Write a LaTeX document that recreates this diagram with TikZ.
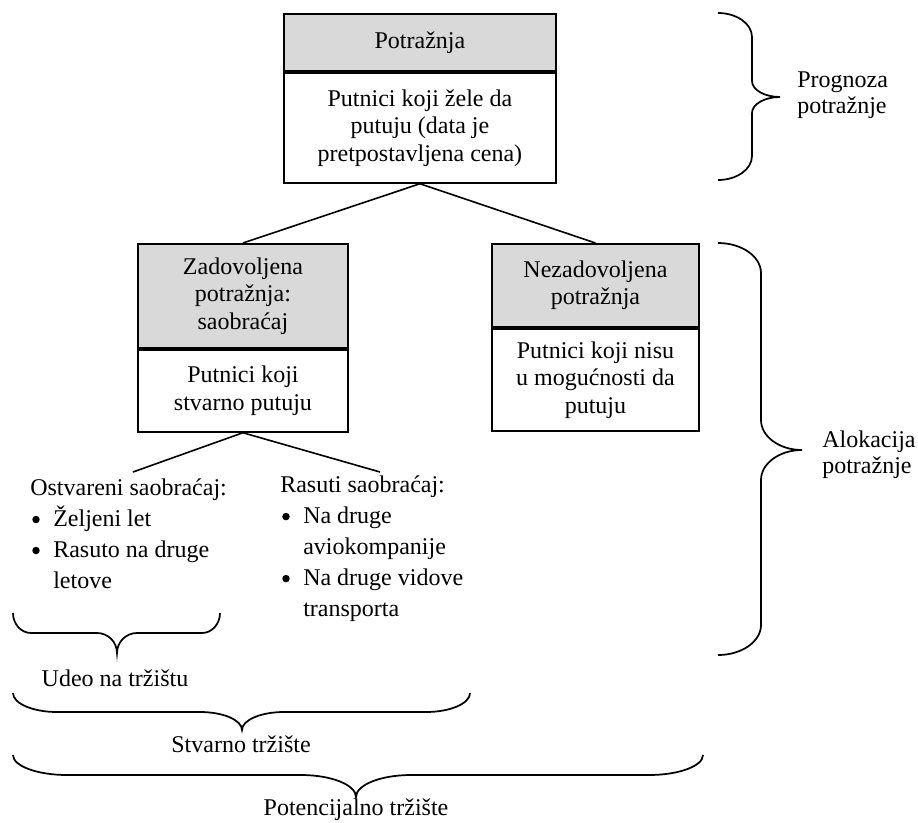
\documentclass[tikz,border=0pt]{standalone}
\usepackage{fontspec}
\setmainfont{Liberation Serif}
\definecolor{headgray}{RGB}{217,217,217}
\newcommand\diagfont{\fontsize{18pt}{20.6pt}\selectfont}
\newcommand\listfont{\fontsize{18pt}{23.25pt}\selectfont}
\newcommand\notefont{\fontsize{18pt}{19.2pt}\selectfont}
% bullet marker of a list item, followed by the indent of its text
\newcommand\itemmark{\makebox[17.25pt][l]{\hspace{1.5pt}\tikz[baseline=0pt]\fill (2.8pt,5.4pt) circle[radius=2.8pt];}}
\newcommand\itemgap{\hspace*{17.25pt}}
% horizontal curly brace, opening upwards:
% x-left, x-right, x-tip, y-ends, y-straight, y-tip, end-curve length, tip-curve length
\newcommand\hbracepx[8]{%
  \draw[bracepath] (#1,#4)
    .. controls (#1,{#4+0.552*(#5-#4)}) and ({#1+0.448*#7},#5) .. ({#1+#7},#5)
    -- ({#3-#8},#5)
    .. controls ({#3-0.448*#8},#5) and (#3,{#5+0.448*(#6-#5)}) .. (#3,#6)
    .. controls (#3,{#5+0.448*(#6-#5)}) and ({#3+0.448*#8},#5) .. ({#3+#8},#5)
    -- ({#2-#7},#5)
    .. controls ({#2-0.448*#7},#5) and (#2,{#4+0.552*(#5-#4)}) .. (#2,#4);}
% vertical curly brace, opening to the left:
% x-ends, x-straight, x-tip, y-top, y-bottom, y-tip, end-curve length, tip-curve length
\newcommand\vbracepx[8]{%
  \draw[bracepath] (#1,#4)
    .. controls ({#1+0.552*(#2-#1)},#4) and (#2,{#4+0.448*#7}) .. (#2,{#4+#7})
    -- (#2,{#6-#8})
    .. controls (#2,{#6-0.448*#8}) and ({#2+0.448*(#3-#2)},#6) .. (#3,#6)
    .. controls ({#2+0.448*(#3-#2)},#6) and (#2,{#6+0.448*#8}) .. (#2,{#6+#8})
    -- (#2,{#5-#7})
    .. controls (#2,{#5-0.448*#7}) and ({#1+0.552*(#2-#1)},#5) .. (#1,#5);}
\begin{document}
\begin{tikzpicture}[x=0.75pt,y=-0.75pt,
  hdr/.style={draw, line width=1.4pt, fill=headgray, inner sep=0pt, align=center, font=\diagfont},
  bodybox/.style={draw, line width=1.4pt, fill=white, inner sep=0pt, align=center, font=\diagfont},
  link/.style={line width=1.2pt},
  bracepath/.style={line width=1.3pt},
  listtext/.style={inner sep=0pt, align=left, font=\listfont},
  lbl/.style={inner sep=0pt, font=\notefont}]
\useasboundingbox[fill=white] (0,0) rectangle (918,822);

% demand box
\node[hdr, minimum width=204pt, minimum height=42.75pt, anchor=north west] (potH) at (283,13) {Potražnja};
\node[bodybox, minimum width=204pt, minimum height=82.5pt, anchor=north] (potB) at (potH.south)
  {Putnici koji žele da\\putuju (data je\\pretpostavljena cena)};

% satisfied demand box
\node[hdr, minimum width=157.5pt, minimum height=78pt, anchor=north west] (zadH) at (137,243)
  {Zadovoljena\\potražnja:\\saobraćaj};
\node[bodybox, minimum width=157.5pt, minimum height=61.5pt, anchor=north] (zadB) at (zadH.south)
  {Putnici koji\\stvarno putuju};

% unsatisfied demand box
\node[hdr, minimum width=155.25pt, minimum height=62.25pt, anchor=north west] (nezH) at (491,243)
  {Nezadovoljena\\potražnja};
\node[bodybox, minimum width=155.25pt, minimum height=76.5pt, anchor=north] (nezB) at (nezH.south)
  {Putnici koji nisu\\u mogućnosti da\\putuju};

% tree connectors
\draw[link] (potB.south) -- (zadH.north);
\draw[link] (potB.south) -- (nezH.north);
\coordinate (ostTop) at (133,472);
\coordinate (rasTop) at (380,472);
\draw[link] (zadB.south) -- (ostTop);
\draw[link] (zadB.south) -- (rasTop);

% traffic lists
\node[listtext, anchor=west] (ost) at (30,534)
  {Ostvareni saobraćaj:\\
   \itemmark Željeni let\\
   \itemmark Rasuto na druge\\
   \itemgap letove};
\node[listtext, anchor=west] (ras) at (280,549)
  {Rasuti saobraćaj:\\
   \itemmark Na druge\\
   \itemgap aviokompanije\\
   \itemmark Na druge vidove\\
   \itemgap transporta};

% market braces
\hbracepx{13}{220}{117}{613}{633}{653}{18}{20}
\node[lbl] (udeo) at (115,678) {Udeo na tržištu};
\hbracepx{13}{470}{242}{693}{712}{730}{44}{42}
\node[lbl] (stv) at (241,744) {Stvarno tržište};
\hbracepx{13}{703}{356}{755}{775}{797}{54}{55}
\node[lbl] (potc) at (356,810) {Potencijalno tržište};

% side braces
\vbracepx{718}{752}{780}{13}{180}{97}{24}{16}
\node[lbl, anchor=west, align=left] (prog) at (797,95) {Prognoza\\potražnje};
\vbracepx{718}{761}{802}{243}{655}{450}{30}{30}
\node[lbl, anchor=west, align=left] (alok) at (822,455) {Alokacija\\potražnje};
\end{tikzpicture}
\end{document}
